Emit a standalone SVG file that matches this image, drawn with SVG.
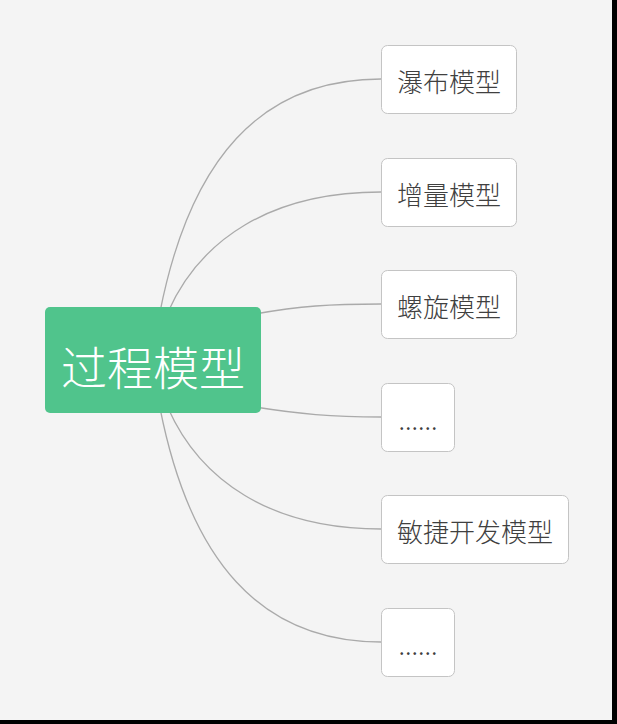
<svg xmlns="http://www.w3.org/2000/svg" width="617" height="724" viewBox="0 0 617 724">
<style>
.bg{fill:#f4f4f4}
.link{fill:none;stroke:#aaaaaa;stroke-width:1.3}
.leaf rect{fill:#ffffff;stroke:#c4c4c4;stroke-width:1}
.leaf text{font-family:"Noto Sans CJK SC","Noto Sans",sans-serif;font-size:26px;font-weight:300;fill:#404040;text-anchor:middle}
.root rect{fill:#50c48c}
.root text{font-family:"Noto Sans CJK SC","Noto Sans",sans-serif;font-size:46px;font-weight:300;fill:#ffffff;text-anchor:middle}
</style>
<rect x="0" y="0" width="617" height="724" fill="#000"/>
<rect class="bg" x="0" y="0" width="612" height="720"/>
<g id="connectors">
<path class="link" d="M160,312 C190,160 260,79 381,79"/>
<path class="link" d="M168,312 C200,240 270,192 381,192"/>
<path class="link" d="M255,314 C300,306 330,304 381,304"/>
<path class="link" d="M255,407 C300,414 330,417 381,417"/>
<path class="link" d="M168,408 C200,480 270,529 381,529"/>
<path class="link" d="M160,408 C190,560 260,642 381,642"/>
</g>
<g id="root" class="root">
<rect x="45" y="307" width="216" height="106" rx="5"/>
<text x="153" y="385">过程模型</text>
</g>
<g id="n1" class="leaf">
<rect x="381.5" y="45.5" width="135" height="68" rx="6"/>
<text x="449" y="92">瀑布模型</text>
</g>
<g id="n2" class="leaf">
<rect x="381.5" y="158.5" width="135" height="68" rx="6"/>
<text x="449" y="205">增量模型</text>
</g>
<g id="n3" class="leaf">
<rect x="381.5" y="270.5" width="135" height="68" rx="6"/>
<text x="449" y="317">螺旋模型</text>
</g>
<g id="n4" class="leaf">
<rect x="381.5" y="383.5" width="73" height="68" rx="6"/>
<text x="418" y="430">......</text>
</g>
<g id="n5" class="leaf">
<rect x="381.5" y="495.5" width="187" height="68" rx="6"/>
<text x="475" y="542">敏捷开发模型</text>
</g>
<g id="n6" class="leaf">
<rect x="381.5" y="608.5" width="73" height="68" rx="6"/>
<text x="418" y="655">......</text>
</g>
</svg>
